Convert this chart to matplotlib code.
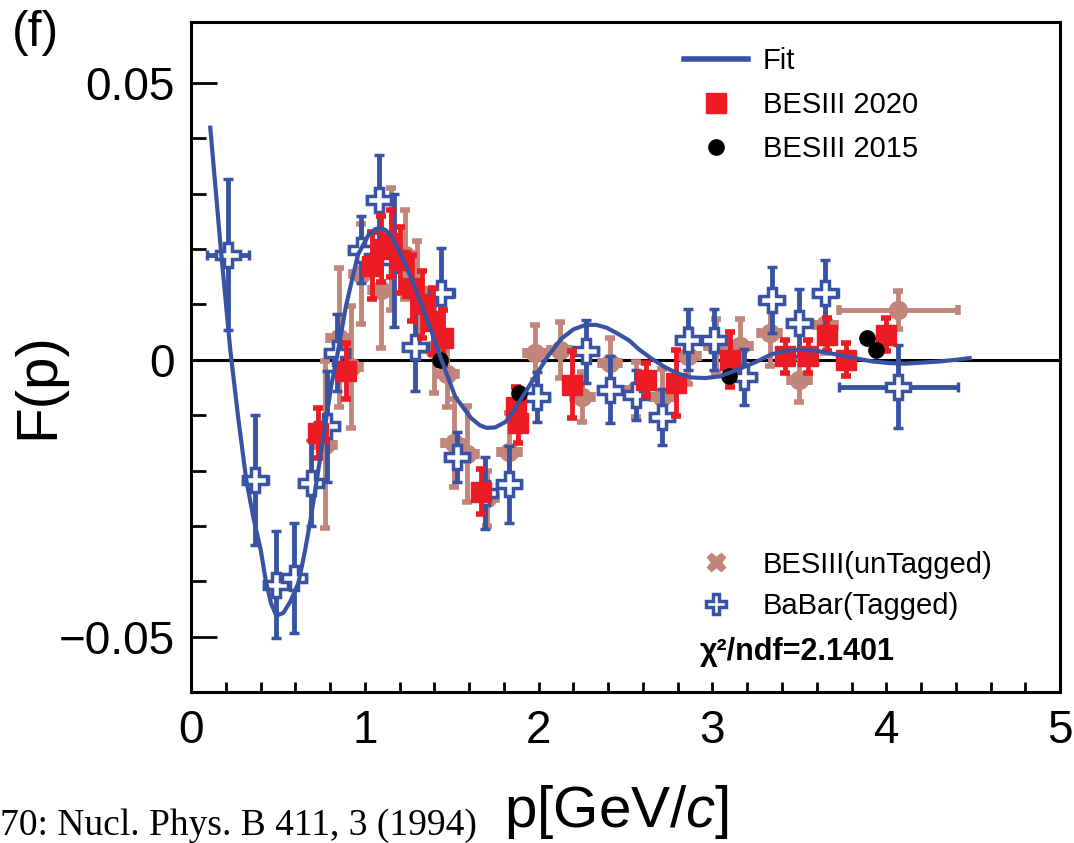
import matplotlib
matplotlib.use('agg')
import matplotlib.pyplot as plt
from matplotlib.lines import Line2D
from matplotlib.ticker import MultipleLocator, FixedLocator

plt.rcParams['font.family'] = ['Liberation Sans', 'DejaVu Sans']
plt.rcParams['mathtext.fontset'] = 'custom'
plt.rcParams['mathtext.it'] = 'Liberation Sans:italic'
plt.rcParams['mathtext.rm'] = 'Liberation Sans'

BLUE = '#3953a4'
RED = '#ed1c24'
ROSY = '#c1857a'

# fit curve
fit_p = [0.11, 0.17, 0.225, 0.27, 0.317, 0.36, 0.40, 0.43, 0.46, 0.49, 0.53,
         0.57, 0.617, 0.655, 0.69, 0.75, 0.807, 0.836, 0.89, 0.93, 0.96, 1.02,
         1.06, 1.09, 1.12, 1.15, 1.21, 1.27, 1.33, 1.39, 1.44, 1.52, 1.61, 1.66,
         1.70, 1.75, 1.81, 1.85, 1.90, 1.95, 2.00, 2.05, 2.13, 2.20, 2.27, 2.33,
         2.39, 2.45, 2.52, 2.58, 2.65, 2.73, 2.81, 2.88, 2.96, 3.04, 3.11, 3.18,
         3.25, 3.34, 3.42, 3.50, 3.60, 3.69, 3.80, 3.92, 4.02, 4.11, 4.21, 4.31,
         4.40, 4.48]
fit_F = [0.0419, 0.0202, 0.0018, -0.0103, -0.0217, -0.0288, -0.0343, -0.0400,
         -0.0440, -0.0462, -0.0457, -0.0437, -0.0403, -0.0345, -0.0283, -0.0162,
         -0.0045, 0.0000, 0.0096, 0.0150, 0.0190, 0.0225, 0.0236, 0.0238, 0.0234,
         0.0224, 0.0188, 0.0144, 0.0096, 0.0045, 0.0000, -0.0067, -0.0105,
         -0.0118, -0.0123, -0.0122, -0.0112, -0.0095, -0.0070, -0.0045, -0.0020,
         0.0005, 0.0038, 0.0055, 0.0063, 0.0063, 0.0058, 0.0048, 0.0035, 0.0018,
         0.0002, -0.0014, -0.0026, -0.0032, -0.0033, -0.0030, -0.0022, -0.0013,
         -0.0004, 0.0010, 0.0016, 0.0018, 0.0016, 0.0011, 0.0004, -0.0003,
         -0.0006, -0.0007, -0.0005, -0.0003, 0.0000, 0.0003]

# BaBar (tagged)
babar_p = [0.21, 0.37, 0.49, 0.59, 0.69, 0.78, 0.84, 0.98, 1.08, 1.17, 1.29,
           1.44, 1.53, 1.69, 1.83, 1.99, 2.27, 2.41, 2.56, 2.71, 2.86, 3.01,
           3.18, 3.34, 3.50, 3.65, 4.07]
babar_F = [0.0190, -0.0217, -0.0406, -0.0394, -0.0222, -0.0120, 0.0013, 0.0199,
           0.0289, 0.0180, 0.0023, 0.0121, -0.0175, -0.0240, -0.0225, -0.0067,
           0.0015, -0.0054, -0.0063, -0.0103, 0.0036, 0.0036, -0.0031, 0.0108,
           0.0067, 0.0121, -0.0049]
babar_err = [0.0136, 0.0118, 0.0097, 0.0099, 0.0078, 0.0100, 0.0070, 0.0060,
             0.0080, 0.0120, 0.0080, 0.0080, 0.0045, 0.0065, 0.0070, 0.0045,
             0.0057, 0.0060, 0.0045, 0.0050, 0.0055, 0.0055, 0.0050, 0.0060,
             0.0060, 0.0060, 0.0075]
babar_xerr = [0.12, 0.07, 0.07, 0.07, 0.07, 0.07, 0.07, 0.07, 0.07, 0.07, 0.07,
              0.07, 0.07, 0.07, 0.07, 0.07, 0.07, 0.07, 0.07, 0.07, 0.07, 0.07,
              0.07, 0.07, 0.07, 0.07, 0.34]

# BESIII (untagged)
untag_p = [0.77, 0.85, 0.92, 0.98, 1.09, 1.15, 1.23, 1.30, 1.40, 1.47, 1.51,
           1.585, 1.70, 1.83, 1.98, 2.12, 2.25, 2.41, 2.56, 2.71, 2.86, 3.02,
           3.16, 3.33, 3.50, 3.65, 4.07]
untag_F = [-0.0153, 0.0040, -0.0013, 0.0155, 0.0126, 0.0200, 0.0190, 0.0125,
           0.0020, -0.0025, -0.0150, -0.0170, -0.0250, -0.0166, 0.0013, 0.0018,
           -0.0067, -0.0006, -0.0054, -0.0067, 0.0006, 0.0024, 0.0024, 0.0049,
           -0.0036, 0.0063, 0.0090]
untag_err = [0.0150, 0.0125, 0.0110, 0.0090, 0.0105, 0.0110, 0.0080, 0.0090,
             0.0080, 0.0060, 0.0080, 0.0087, 0.0050, 0.0070, 0.0050, 0.0050,
             0.0045, 0.0045, 0.0050, 0.0050, 0.0050, 0.0050, 0.0050, 0.0060,
             0.0040, 0.0050, 0.0035]
untag_xerr = [0.06, 0.06, 0.06, 0.06, 0.06, 0.06, 0.06, 0.06, 0.06, 0.06, 0.06,
              0.06, 0.06, 0.06, 0.06, 0.06, 0.06, 0.06, 0.06, 0.06, 0.06, 0.06,
              0.06, 0.06, 0.06, 0.06, 0.34]

# BESIII 2020
b20_p = [0.73, 0.89, 1.04, 1.09, 1.15, 1.20, 1.27, 1.33, 1.39, 1.45, 1.67,
         1.87, 1.88, 2.19, 2.62, 2.79, 3.10, 3.42, 3.55, 3.66, 3.77, 4.00]
b20_F = [-0.0132, -0.0020, 0.0170, 0.0200, 0.0210, 0.0180, 0.0130, 0.0100,
         0.0070, 0.0040, -0.0238, -0.0085, -0.0115, -0.0045, -0.0036, -0.0042,
         0.0000, 0.0006, 0.0006, 0.0045, 0.0000, 0.0045]
b20_err = [0.0045, 0.0050, 0.0060, 0.0060, 0.0060, 0.0060, 0.0060, 0.0060,
           0.0060, 0.0050, 0.0040, 0.0035, 0.0035, 0.0060, 0.0030, 0.0060,
           0.0050, 0.0030, 0.0030, 0.0030, 0.0030, 0.0030]

# BESIII 2015
b15_p = [1.43, 1.885, 3.095, 3.89, 3.94]
b15_F = [0.0000, -0.0060, -0.0030, 0.0040, 0.0018]

y_minor = [-0.05, -0.04, -0.03, -0.02, -0.01, 0, 0.01, 0.02, 0.03, 0.04, 0.05]

fig = plt.figure(figsize=(10.74, 8.43), dpi=100)
ax = fig.add_axes([0.178, 0.179, 0.809, 0.795])

ax.axhline(0, color='black', lw=2.2, zorder=1)

ax.errorbar(untag_p, untag_F, yerr=untag_err, xerr=untag_xerr, fmt='o',
            color=ROSY, ms=13, elinewidth=3.5, capsize=3.5, capthick=4, zorder=2)
ax.errorbar(babar_p, babar_F, yerr=babar_err, xerr=babar_xerr, fmt='P',
            color=BLUE, mfc='white', mec=BLUE, mew=2.5, ms=17,
            elinewidth=3.5, capsize=3.5, capthick=4, zorder=3)
ax.errorbar(b20_p, b20_F, yerr=b20_err, fmt='s', color=RED, ms=15,
            elinewidth=3.5, capsize=3.5, capthick=4, zorder=4)
ax.plot(b15_p, b15_F, 'o', color='black', ms=11, zorder=5)
ax.plot(fit_p, fit_F, '-', color=BLUE, lw=3, zorder=6)

ax.set_xlim(0, 5)
ax.set_ylim(-0.06, 0.061)
ax.xaxis.set_major_locator(MultipleLocator(1))
ax.xaxis.set_minor_locator(MultipleLocator(0.2))
ax.set_yticks([-0.05, 0, 0.05])
ax.set_yticklabels(['\u22120.05', '0', '0.05'])
ax.yaxis.set_minor_locator(FixedLocator(y_minor))
ax.tick_params(axis='y', which='major', direction='in', length=19, width=2,
               labelsize=33, pad=12)
ax.tick_params(axis='y', which='minor', direction='in', length=11, width=2)
ax.tick_params(axis='x', which='both', direction='in', length=7, width=2,
               labelsize=33, pad=12)
for s in ax.spines.values():
    s.set_linewidth(2.2)

ax.set_xlabel(r'p[GeV/$c$]', fontsize=42)
ax.xaxis.set_label_coords(0.489, -0.135)
ax.set_ylabel('F(p)', fontsize=42)
ax.yaxis.set_label_coords(-0.145, 0.458)

h1 = [Line2D([], [], color=BLUE, lw=4),
      Line2D([], [], ls='none', marker='s', color=RED, ms=15),
      Line2D([], [], ls='none', marker='o', color='black', ms=11)]
leg1 = ax.legend(h1, ['Fit', 'BESIII 2020', 'BESIII 2015'], loc='upper left',
                 bbox_to_anchor=(0.567, 0.963), frameon=False, fontsize=21,
                 handlelength=2.2, handletextpad=0.5, labelspacing=0.55,
                 borderpad=0, borderaxespad=0)
ax.add_artist(leg1)
h2 = [Line2D([], [], ls='none', marker='X', color=ROSY, ms=13),
      Line2D([], [], ls='none', marker='P', mfc='white', mec=BLUE, mew=2.5, ms=15)]
ax.legend(h2, ['BESIII(unTagged)', 'BaBar(Tagged)'], loc='upper left',
          bbox_to_anchor=(0.567, 0.211), frameon=False, fontsize=21,
          handlelength=2.2, handletextpad=0.5, labelspacing=0.47,
          borderpad=0, borderaxespad=0)
ax.text(0.585, 0.06, '\u03c7\u00b2/ndf=2.1401', transform=ax.transAxes,
        fontsize=22, fontweight='bold', va='center', ha='left')

fig.text(0.011, 0.988, '(f)', fontsize=36, va='top', ha='left')
fig.text(0.0, 0.01, '70: Nucl. Phys. B 411, 3 (1994)',
         family='Liberation Serif', fontsize=27, va='baseline', ha='left')

fig.savefig('out.png', dpi=100)
